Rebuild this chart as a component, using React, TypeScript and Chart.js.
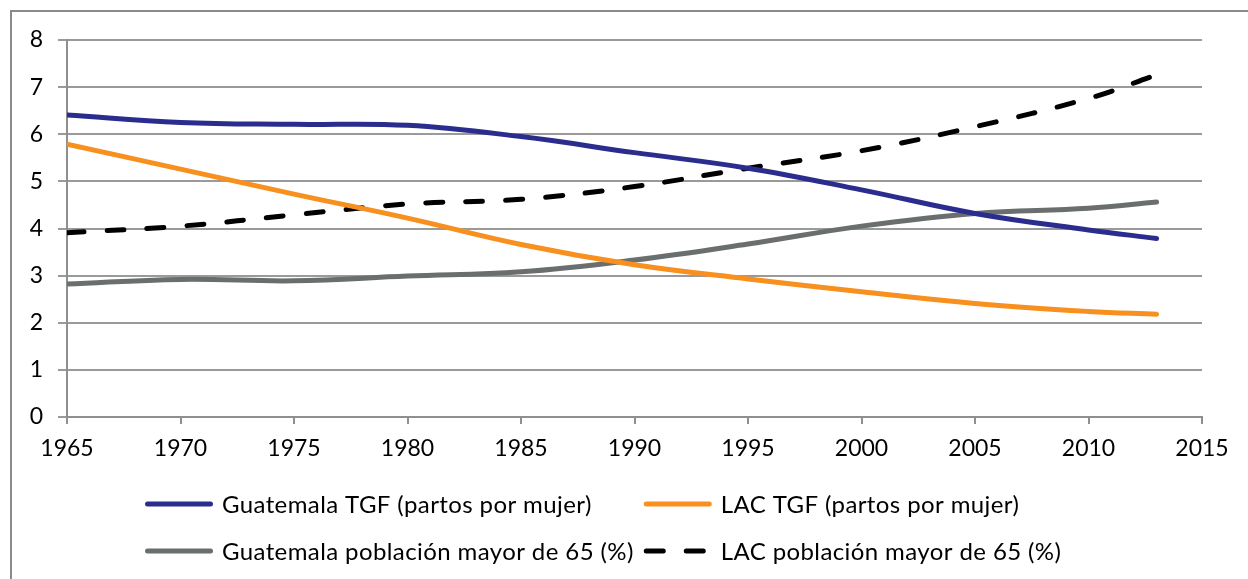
import React, { useEffect, useRef } from "react";
import { Chart, registerables } from "chart.js";

Chart.register(...registerables);

const years = [1965, 1970, 1975, 1980, 1985, 1990, 1995, 2000, 2005, 2010, 2013];
const guatemalaTGF = [6.41, 6.25, 6.21, 6.19, 5.95, 5.61, 5.28, 4.82, 4.32, 3.97, 3.79];
const lacTGF = [5.79, 5.26, 4.73, 4.22, 3.66, 3.23, 2.93, 2.66, 2.41, 2.24, 2.18];
const guatemala65 = [2.82, 2.92, 2.89, 2.99, 3.08, 3.33, 3.67, 4.05, 4.32, 4.43, 4.56];
const lac65 = [3.91, 4.05, 4.29, 4.52, 4.62, 4.89, 5.28, 5.65, 6.16, 6.76, 7.26];

const seriesLabels = [
  "Guatemala TGF (partos por mujer)",
  "LAC TGF (partos por mujer)",
  "Guatemala población mayor de 65 (%)",
  "LAC población mayor de 65 (%)",
];
const seriesColors = ["#2A2C8E", "#F7901E", "#6B6E6E", "#000000"];

const xMin = 1965;
const xMax = 2015;
const xStep = 5;
const yMin = 0;
const yMax = 8;
const yStep = 1;

const FONT = 'Lato, "Open Sans", sans-serif';
const TICK_FONT_SIZE = 23;
const LEGEND_FONT_SIZE = 24;

const gridLegend = {
  id: "gridLegend",
  afterDraw(chart: any, _args: any, opts: any) {
    const ctx = chart.ctx;
    ctx.save();
    ctx.font = `${opts.fontSize}px ${FONT}`;
    try {
      (ctx as any).letterSpacing = opts.letterSpacing;
    } catch (e) {}
    const ds = chart.data.datasets;
    const widths = ds.map((d: any) => ctx.measureText(d.label).width);
    const col1W = Math.max(widths[0], widths[2]);
    const cols = [opts.left, opts.left + opts.sample + opts.gap + col1W + opts.colGap];
    ds.forEach((d: any, i: number) => {
      const col = i % 2;
      const row = Math.floor(i / 2);
      const x = cols[col];
      const y = opts.top + row * opts.rowH;
      ctx.beginPath();
      ctx.lineWidth = d.borderWidth;
      ctx.strokeStyle = d.borderColor;
      ctx.lineCap = "round";
      ctx.setLineDash(d.borderDash || []);
      ctx.moveTo(x + 2.5, y);
      ctx.lineTo(x + opts.sample - 2.5, y);
      ctx.stroke();
      ctx.setLineDash([]);
      ctx.fillStyle = "#000";
      ctx.textBaseline = "middle";
      ctx.textAlign = "left";
      ctx.fillText(d.label, x + opts.sample + opts.gap, y + 1);
    });
    ctx.restore();
  },
};

export default function App() {
  const canvasRef = useRef<HTMLCanvasElement | null>(null);

  useEffect(() => {
    if (!canvasRef.current) return;
    const series = [guatemalaTGF, lacTGF, guatemala65, lac65];
    const chart = new Chart(canvasRef.current, {
      type: "line",
      data: {
        datasets: series.map((vals, i) => ({
          label: seriesLabels[i],
          data: years.map((yr, j) => ({ x: yr, y: vals[j] })),
          borderColor: seriesColors[i],
          backgroundColor: seriesColors[i],
          borderWidth: 5,
          borderCapStyle: "round" as const,
          borderJoinStyle: "round" as const,
          borderDash: i === 3 ? [17, 23] : [],
          pointRadius: 0,
          tension: 0.4,
          fill: false,
        })),
      },
      options: {
        responsive: false,
        animation: false,
        devicePixelRatio: 1,
        layout: { padding: { top: 40, right: 46, left: 0, bottom: 0 } },
        plugins: {
          legend: { display: false },
          tooltip: { enabled: false },
          gridLegend: {
            left: 145,
            top: 504,
            rowH: 47,
            sample: 68,
            gap: 9,
            colGap: 10,
            fontSize: LEGEND_FONT_SIZE,
            letterSpacing: "0.4px",
          },
        } as any,
        scales: {
          x: {
            type: "linear",
            min: xMin,
            max: xMax,
            afterFit: (s: any) => {
              s.height = 162;
            },
            ticks: {
              stepSize: xStep,
              color: "#000",
              font: { family: FONT, size: TICK_FONT_SIZE },
              padding: 11,
              maxRotation: 0,
              autoSkip: false,
              callback: (v: any) => String(v),
            },
            grid: {
              display: true,
              drawOnChartArea: false,
              drawTicks: true,
              tickLength: 7,
              color: "#8f8f8f",
              lineWidth: 2,
            },
            border: { display: true, color: "#8f8f8f", width: 2 },
          },
          y: {
            type: "linear",
            min: yMin,
            max: yMax,
            afterFit: (s: any) => {
              s.width = 67;
            },
            ticks: {
              stepSize: yStep,
              color: "#000",
              font: { family: FONT, size: TICK_FONT_SIZE },
              padding: 15,
            },
            grid: {
              color: "#9a9a9a",
              lineWidth: 2,
              tickLength: 9,
            },
            border: { display: true, color: "#8f8f8f", width: 2 },
          },
        },
      },
      plugins: [gridLegend],
    });
    return () => chart.destroy();
  }, []);

  return (
    <div
      style={{
        position: "fixed",
        left: 0,
        top: 0,
        width: 1248,
        height: 579,
        overflow: "hidden",
        background: "#fff",
      }}
    >
      <div
        style={{
          position: "absolute",
          left: 10,
          top: 10,
          width: 1400,
          height: 800,
          border: "2px solid #8a8a8a",
        }}
      />
      <canvas
        ref={canvasRef}
        width={1248}
        height={579}
        style={{ position: "absolute", left: 0, top: 0 }}
      />
    </div>
  );
}
